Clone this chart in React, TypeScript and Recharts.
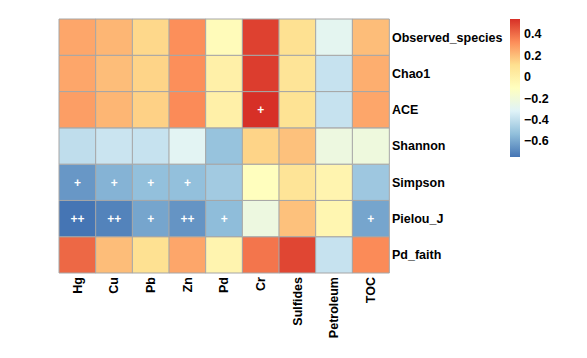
import React from 'react';
import { BarChart, Bar, XAxis, YAxis, Cell, LabelList, Legend } from 'recharts';

const columns = ['Hg', 'Cu', 'Pb', 'Zn', 'Pd', 'Cr', 'Sulfides', 'Petroleum', 'TOC'];
const rows = ['Observed_species', 'Chao1', 'ACE', 'Shannon', 'Simpson', 'Pielou_J', 'Pd_faith'];

// correlation values, one array per row (same order as columns)
const observedSpecies = [0.26, 0.22, 0.13, 0.32, -0.08, 0.5, 0.1, -0.29, 0.2];
const chao1 = [0.26, 0.2, 0.14, 0.32, 0.0, 0.51, 0.08, -0.39, 0.24];
const ace = [0.28, 0.22, 0.15, 0.33, 0.0, 0.54, 0.09, -0.39, 0.26];
const shannon = [-0.41, -0.38, -0.39, -0.3, -0.52, 0.14, 0.19, -0.23, -0.22];
const simpson = [-0.65, -0.57, -0.53, -0.53, -0.49, -0.1, 0.08, -0.03, -0.5];
const pielouJ = [-0.75, -0.71, -0.61, -0.66, -0.54, -0.23, 0.19, -0.04, -0.61];
const pdFaith = [0.41, 0.2, 0.1, 0.26, -0.03, 0.38, 0.49, -0.39, 0.33];

// significance marks
const sigObserved = ['', '', '', '', '', '', '', '', ''];
const sigChao1 = ['', '', '', '', '', '', '', '', ''];
const sigAce = ['', '', '', '', '', '+', '', '', ''];
const sigShannon = ['', '', '', '', '', '', '', '', ''];
const sigSimpson = ['+', '+', '+', '+', '', '', '', '', ''];
const sigPielou = ['++', '++', '+', '++', '+', '', '', '', '+'];
const sigPdFaith = ['', '', '', '', '', '', '', '', ''];

const colorbarTicks = [0.4, 0.2, 0, -0.2, -0.4, -0.6];

const values = [observedSpecies, chao1, ace, shannon, simpson, pielouJ, pdFaith];
const sigs = [sigObserved, sigChao1, sigAce, sigShannon, sigSimpson, sigPielou, sigPdFaith];

const PALETTE = ['#4575B4', '#91BFDB', '#E0F3F8', '#FFFFBF', '#FEE090', '#FC8D59', '#D73027'];
const all = values.flat();
const MIN = Math.min(...all);
const MAX = Math.max(...all);

const hex = (h: string) => [1, 3, 5].map((i) => parseInt(h.slice(i, i + 2), 16));

function colorFor(v: number) {
  const t = Math.max(0, Math.min(1, (v - MIN) / (MAX - MIN))) * (PALETTE.length - 1);
  const i = Math.min(PALETTE.length - 2, Math.floor(t));
  const f = t - i;
  const a = hex(PALETTE[i]);
  const b = hex(PALETTE[i + 1]);
  const c = a.map((x, k) => Math.round(x + (b[k] - x) * f));
  return `rgb(${c[0]},${c[1]},${c[2]})`;
}

const data = columns.map((name, i) => {
  const d: any = { name };
  rows.forEach((r, j) => {
    d[r] = 1;
    d[r + '_v'] = values[j][i];
    d[r + '_s'] = sigs[j][i];
  });
  return d;
});

const FONT = '"Liberation Sans", Arial, Helvetica, sans-serif';

const XTick = (props: any) => {
  const { x, y, payload } = props;
  return (
    <text
      transform={`translate(${x},${y}) rotate(-90)`}
      textAnchor="end"
      dy="0.35em"
      fontFamily={FONT}
      fontSize={12.5}
      fontWeight="bold"
      fill="#000"
    >
      {payload.value}
    </text>
  );
};

const BAR_H = 138;

const ColorBar = () => {
  const yOf = (v: number) => ((MAX - v) / (MAX - MIN)) * BAR_H;
  return (
    <svg width={70} height={150} style={{ overflow: 'visible' }}>
      <defs>
        <linearGradient id="cbar" x1="0" y1="1" x2="0" y2="0">
          {PALETTE.map((c, i) => (
            <stop key={c} offset={i / (PALETTE.length - 1)} stopColor={c} />
          ))}
        </linearGradient>
      </defs>
      <rect x={0} y={0} width={10} height={BAR_H} fill="url(#cbar)" />
      {colorbarTicks.map((v) => (
        <text
          key={v}
          x={14}
          y={yOf(v)}
          dy="0.35em"
          fontFamily={FONT}
          fontSize={12.5}
          fontWeight="bold"
          fill="#000"
        >
          {v < 0 ? '\u2212' + Math.abs(v) : String(v)}
        </text>
      ))}
    </svg>
  );
};

export default function App() {
  return (
    <BarChart
      width={579}
      height={350}
      data={data}
      barCategoryGap={0}
      margin={{ top: 11, left: 51, right: 78, bottom: 5 }}
    >
      <XAxis
        dataKey="name"
        type="category"
        axisLine={false}
        tickLine={false}
        tickSize={0}
        tickMargin={4}
        height={80}
        interval={0}
        tick={<XTick />}
      />
      <YAxis
        type="number"
        orientation="right"
        domain={[0, rows.length]}
        ticks={rows.map((_, i) => i + 0.5)}
        tickFormatter={(v: number) => rows[rows.length - 1 - Math.floor(v)]}
        axisLine={false}
        tickLine={false}
        tickSize={0}
        tickMargin={3}
        width={120}
        interval={0}
        tick={{ fontFamily: FONT, fontSize: 12.5, fontWeight: 'bold', fill: '#000', textAnchor: 'start' }}
      />
      <Legend
        layout="horizontal"
        verticalAlign="middle"
        align="center"
        wrapperStyle={{ left: 502, top: 11, width: 70, height: 150 }}
        content={() => <ColorBar />}
      />
      {[...rows].reverse().map((r) => (
        <Bar
          key={r}
          dataKey={r}
          stackId="h"
          isAnimationActive={false}
          stroke="#a6a6a6"
          strokeWidth={1}
        >
          {data.map((d, i) => (
            <Cell key={i} fill={colorFor(d[r + '_v'])} />
          ))}
          <LabelList
            dataKey={r + '_s'}
            position="center"
            fill="#fff"
            fontFamily={FONT}
            fontSize={12}
            fontWeight="bold"
          />
        </Bar>
      ))}
    </BarChart>
  );
}
